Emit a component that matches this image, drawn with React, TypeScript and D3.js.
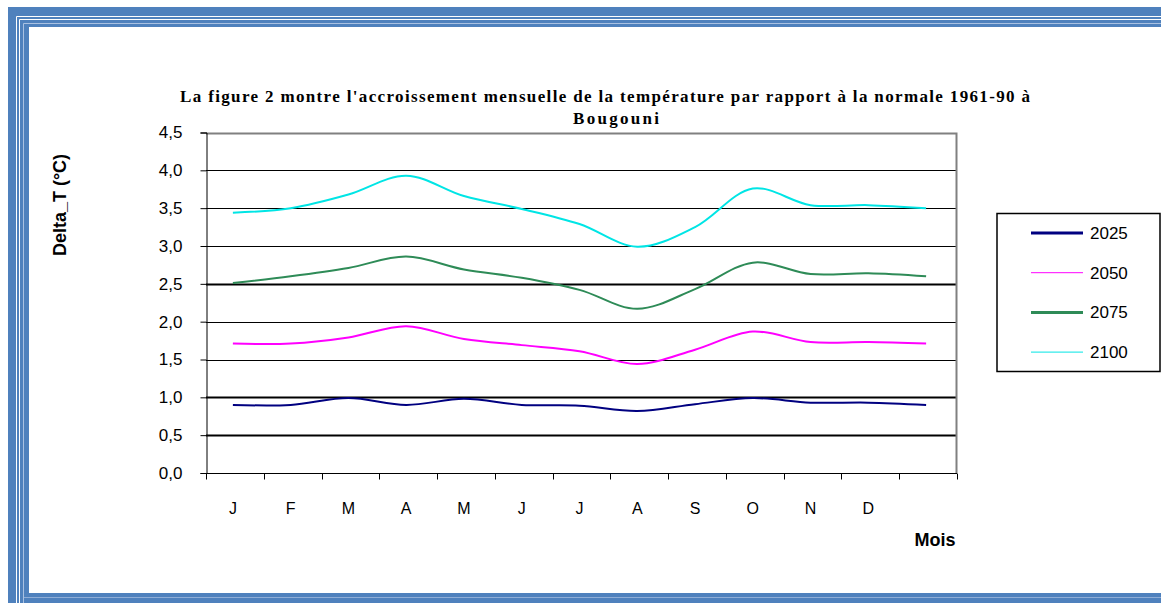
import React, { useEffect, useRef } from "react";
import * as d3 from "d3";

// month labels (13th slot is empty in the original)
const months = ["J", "F", "M", "A", "M", "J", "J", "A", "S", "O", "N", "D", ""];
const yTicks = [0, 0.5, 1, 1.5, 2, 2.5, 3, 3.5, 4, 4.5];

const d2025 = [0.9, 0.9, 0.99, 0.9, 0.98, 0.9, 0.89, 0.82, 0.91, 0.99, 0.93, 0.93, 0.9];
const d2050 = [1.71, 1.71, 1.79, 1.94, 1.77, 1.69, 1.61, 1.44, 1.63, 1.87, 1.73, 1.73, 1.71];
const d2075 = [2.51, 2.6, 2.71, 2.86, 2.69, 2.58, 2.42, 2.17, 2.43, 2.78, 2.63, 2.64, 2.6];
const d2100 = [3.44, 3.5, 3.68, 3.93, 3.66, 3.49, 3.29, 2.99, 3.25, 3.76, 3.54, 3.54, 3.5];

const series = [
  { name: "2025", values: d2025, color: "#000080", width: 2, legendWidth: 3 },
  { name: "2050", values: d2050, color: "#ff00ff", width: 2, legendWidth: 1 },
  { name: "2075", values: d2075, color: "#2e8b57", width: 2, legendWidth: 3 },
  { name: "2100", values: d2100, color: "#00e5e5", width: 2, legendWidth: 1 },
];

export default function App() {
  const ref = useRef<SVGSVGElement | null>(null);

  useEffect(() => {
    if (!ref.current) return;
    const svg = d3.select(ref.current);
    svg.selectAll("*").remove();

    const W = 1161;
    const H = 603;
    const sans = "'Liberation Sans', Arial, sans-serif";

    // page frame (blue borders, clipped at right/bottom)
    const frame = svg.append("g");
    frame.append("rect").attr("x", 8).attr("y", 7).attr("width", W - 8).attr("height", H - 7).attr("fill", "#4f81bd");
    frame.append("path").attr("d", `M16.5,${H} V16.5 H${W}`).attr("fill", "none").attr("stroke", "#fff").attr("stroke-width", 1);
    frame.append("path").attr("d", `M19.5,${H} V19.5 H${W}`).attr("fill", "none").attr("stroke", "#fff").attr("stroke-width", 1);
    frame.append("path").attr("d", `M23.5,${H} V23.5 H${W}`).attr("fill", "none").attr("stroke", "#a9c1e2").attr("stroke-width", 1);
    frame.append("line").attr("x1", 24).attr("x2", W).attr("y1", 597.5).attr("y2", 597.5).attr("stroke", "#8fadd6");
    frame.append("rect").attr("x", 29).attr("y", 27).attr("width", W - 29).attr("height", 593 - 27).attr("fill", "#fff");

    const left = 206;
    const right = 957;
    const top = 132.5;
    const bottom = 473;

    const x = d3.scaleBand<number>().domain(d3.range(months.length)).range([left, right]);
    const y = d3.scaleLinear().domain([0, 4.5]).range([bottom, top]);

    // gridlines
    svg
      .append("g")
      .selectAll("line")
      .data(yTicks.filter((t) => t > 0 && t < 4.5))
      .join("line")
      .attr("x1", left)
      .attr("x2", right)
      .attr("y1", (d) => Math.round(y(d)) + 0.5)
      .attr("y2", (d) => Math.round(y(d)) + 0.5)
      .attr("stroke", "#000")
      .attr("stroke-width", (d) => (d === 2.5 || d === 1 || d === 0.5 ? 2 : 1));

    // plot border top/right in grey
    svg
      .append("path")
      .attr("d", `M${left},${Math.round(y(4.5)) + 0.5} H${right - 0.5} V${bottom}`)
      .attr("fill", "none")
      .attr("stroke", "#808080")
      .attr("stroke-width", 2);

    // y axis
    const yAxis = d3.axisLeft(y).tickValues(yTicks).tickSize(6).tickPadding(18).tickFormat((d) => d3.format(".1f")(d as number).replace(".", ","));
    const gy = svg.append("g").attr("transform", `translate(${left + 0.5},0)`).call(yAxis);
    gy.select(".domain").attr("stroke", "#000");
    gy.selectAll(".tick line").attr("stroke", "#000");
    gy.selectAll("text").attr("font-family", sans).attr("font-size", 17).attr("fill", "#000");

    // x axis with ticks at the band edges
    const gx = svg.append("g").attr("transform", `translate(0,${bottom + 0.5})`);
    gx.append("line").attr("x1", left).attr("x2", right).attr("stroke", "#000");
    gx
      .selectAll("line.tk")
      .data(d3.range(months.length + 1))
      .join("line")
      .attr("class", "tk")
      .attr("x1", (i) => Math.round(left + i * x.step()) + 0.5)
      .attr("x2", (i) => Math.round(left + i * x.step()) + 0.5)
      .attr("y1", 0)
      .attr("y2", 6)
      .attr("stroke", "#000");
    gx
      .selectAll("text")
      .data(months)
      .join("text")
      .attr("x", (_, i) => (x(i) as number) + x.bandwidth() / 2 - 2)
      .attr("y", 40)
      .attr("text-anchor", "middle")
      .attr("font-family", sans)
      .attr("font-size", 16)
      .text((d) => d);

    // lines
    const line = d3
      .line<number>()
      .x((_, i) => (x(i) as number) + x.bandwidth() / 2 - 2)
      .y((d) => y(d))
      .curve(d3.curveCatmullRom.alpha(0.5));

    svg
      .append("g")
      .selectAll("path")
      .data(series)
      .join("path")
      .attr("d", (s) => line(s.values))
      .attr("fill", "none")
      .attr("stroke", (s) => s.color)
      .attr("stroke-width", (s) => s.width);

    // title
    const title = svg.append("g").attr("font-family", "'Liberation Serif', 'Times New Roman', serif").attr("font-weight", "bold").attr("font-size", 17);
    title
      .append("text")
      .attr("x", 180)
      .attr("y", 102)
      .attr("textLength", 850)
      .attr("lengthAdjust", "spacing")
      .text("La figure 2 montre l'accroissement  mensuelle de la température par rapport à la normale 1961-90 à");
    title.append("text").attr("x", 616).attr("y", 124).attr("text-anchor", "middle").attr("textLength", 86).attr("lengthAdjust", "spacing").text("Bougouni");

    // axis titles
    svg
      .append("text")
      .attr("transform", "translate(66,205) rotate(-90)")
      .attr("text-anchor", "middle")
      .attr("font-family", sans)
      .attr("font-weight", "bold")
      .attr("font-size", 18)
      .text("Delta_T (°C)");
    svg
      .append("text")
      .attr("x", 935)
      .attr("y", 546)
      .attr("text-anchor", "middle")
      .attr("font-family", sans)
      .attr("font-weight", "bold")
      .attr("font-size", 18)
      .text("Mois");

    // legend
    const lg = svg.append("g");
    lg.append("rect").attr("x", 997).attr("y", 213.5).attr("width", 163).attr("height", 158).attr("fill", "#fff").attr("stroke", "#000").attr("stroke-width", 1.5);
    const item = lg
      .selectAll("g.item")
      .data(series)
      .join("g")
      .attr("class", "item")
      .attr("transform", (_, i) => `translate(0,${233 + i * 39.7})`);
    item
      .append("line")
      .attr("x1", 1031)
      .attr("x2", 1083)
      .attr("stroke", (s) => s.color)
      .attr("stroke-width", (s) => s.legendWidth);
    item
      .append("text")
      .attr("x", 1090)
      .attr("y", 6)
      .attr("font-family", sans)
      .attr("font-size", 17)
      .text((s) => s.name);
  }, []);

  return (
    <svg
      ref={ref}
      width={1161}
      height={603}
      style={{ position: "absolute", left: 0, top: 0, background: "#fff" }}
    />
  );
}
